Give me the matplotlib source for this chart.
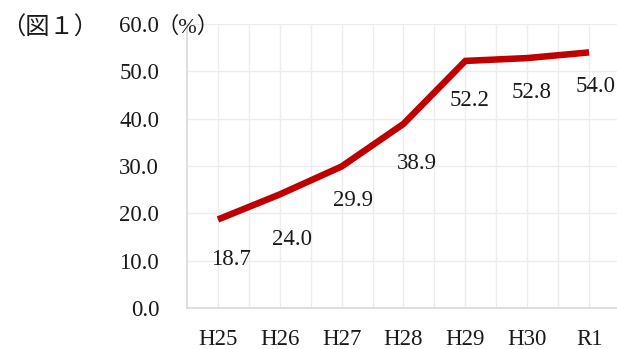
import matplotlib
matplotlib.use("Agg")
import matplotlib.pyplot as plt
from matplotlib.ticker import MultipleLocator, FormatStrFormatter

# --- data
years = ["H25", "H26", "H27", "H28", "H29", "H30", "R1"]
rates = [18.7, 24.0, 29.9, 38.9, 52.2, 52.8, 54.0]

# label offsets (points), tuned by eye to the reference
label_dx = [9.4, 8.6, 7.9, 10.0, 2.9, 2.9, 5.0]
label_dy = [-28.5, -32.5, -24.5, -28.5, -28.5, -25.0, -24.5]

plt.rcParams["font.family"] = ["Liberation Serif", "Noto Sans CJK JP"]
plt.rcParams["font.size"] = 16.5

W, H = 617, 349
fig = plt.figure(figsize=(W / 100, H / 100), dpi=100)
ax = fig.add_axes([187 / W, (H - 308) / H, (620 - 187) / W, (308 - 24) / H])

x = list(range(len(years)))
ax.plot(x, rates, color="#C00000", lw=4.7,
        solid_joinstyle="miter", solid_capstyle="butt", zorder=3)

for i, v in enumerate(rates):
    ax.annotate(f"{v:.1f}", (i, v), xytext=(label_dx[i], label_dy[i]),
                textcoords="offset points", ha="center", va="center",
                color="#1a1a1a")

# --- axes
ax.set_xlim(-0.5, 6.5)
ax.set_ylim(0, 60)
ax.set_xticks(x)
ax.set_xticklabels(years)
ax.set_xticks([i + 0.5 for i in x], minor=True)
ax.yaxis.set_major_locator(MultipleLocator(10))
ax.yaxis.set_major_formatter(FormatStrFormatter("%.1f"))
ax.tick_params(axis="both", which="both", length=0, colors="#1a1a1a")
ax.tick_params(axis="y", pad=20)
ax.tick_params(axis="x", pad=15)

ax.grid(True, which="both", color="#ECECEC", lw=1.0)
ax.set_axisbelow(True)
for s in ["top", "right"]:
    ax.spines[s].set_visible(False)
for s in ["left", "bottom"]:
    ax.spines[s].set_color("#D9D9D9")
    ax.spines[s].set_linewidth(1.2)

fig.text(1 / W, 1 - 28 / H, "（図１）", ha="left", va="center",
         fontsize=17.5, color="#1a1a1a")
fig.text(188 / W, 1 - 27 / H, "（%）", ha="center", va="center",
         fontsize=16, color="#1a1a1a")

fig.savefig("out.png", dpi=100)
